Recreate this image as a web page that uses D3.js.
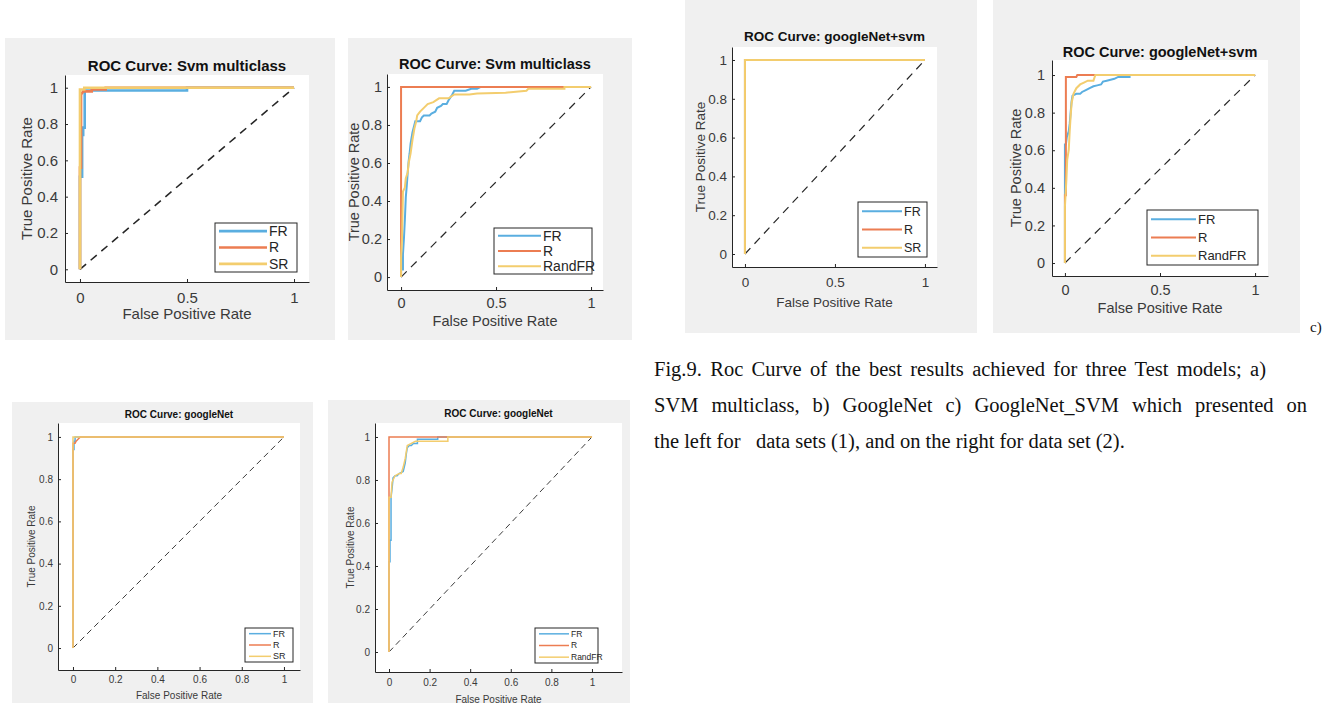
<!DOCTYPE html>
<html>
<head>
<meta charset="utf-8">
<script src="https://cdn.jsdelivr.net/npm/d3@7"></script>
<style>
  body { margin: 0; background: #fff; }
  svg text { font-family: Arial, "Liberation Sans", Helvetica, sans-serif; }
  .caption { font-family: "Liberation Serif", "Times New Roman", serif !important; fill: #111; }
</style>
</head>
<body>
<script>
// ---------- DATA ----------
const classesSet1 = ['FR', 'R', 'SR']
const classesSet2 = ['FR', 'R', 'RandFR']
const xTicksCoarse = [0, 0.5, 1]
const xTicksFine = [0, 0.2, 0.4, 0.6, 0.8, 1]
const yTicks = [0, 0.2, 0.4, 0.6, 0.8, 1]
const titles = ['ROC Curve: Svm multiclass', 'ROC Curve: googleNet+svm', 'ROC Curve: googleNet']

// [false positive rate, true positive rate]
const svmSet1FR = [[0,0],[0,0.51],[0.01,0.51],[0.01,0.74],[0.015,0.74],[0.015,0.78],[0.022,0.78],[0.022,0.985],[0.5,0.985],[0.5,1],[1,1]]
const svmSet1R = [[0,0],[0,0.56],[0.005,0.56],[0.005,0.97],[0.01,0.97],[0.015,0.98],[0.055,0.98],[0.055,0.99],[0.12,0.99],[0.12,1],[1,1]]
const svmSet1SR = [[0,0],[0,0.99],[0.02,0.99],[0.02,1],[1,1]]

const svmSet2FR = [[0,0],[0,0.04],[0.01,0.04],[0.01,0.12],[0.015,0.2],[0.02,0.3],[0.025,0.42],[0.03,0.48],[0.035,0.55],[0.04,0.61],[0.045,0.65],[0.05,0.7],[0.06,0.76],[0.07,0.8],[0.075,0.82],[0.1,0.82],[0.11,0.84],[0.12,0.85],[0.15,0.85],[0.16,0.86],[0.18,0.87],[0.19,0.89],[0.21,0.9],[0.22,0.91],[0.24,0.91],[0.25,0.93],[0.27,0.96],[0.28,0.98],[0.34,0.98],[0.37,0.99],[0.4,0.99],[0.42,1],[1,1]]
const svmSet2R = [[0,0],[0,0.15],[0,1],[1,1]]
const svmSet2RandFR = [[0,0],[0,0.1],[0.005,0.2],[0.01,0.45],[0.02,0.47],[0.025,0.52],[0.035,0.55],[0.04,0.6],[0.05,0.65],[0.06,0.72],[0.07,0.78],[0.08,0.82],[0.085,0.85],[0.1,0.87],[0.12,0.89],[0.14,0.91],[0.17,0.92],[0.2,0.94],[0.25,0.94],[0.28,0.96],[0.36,0.96],[0.4,0.965],[0.55,0.97],[0.66,0.98],[0.67,0.99],[0.86,0.99],[0.86,1],[1,1]]

const gsSet1FR = [[0,0],[0,1],[1,1]]
const gsSet1R = [[0,0],[0,1],[1,1]]
const gsSet1SR = [[0,0],[0,1],[1,1]]

const gsSet2FR = [[0,0],[0,0.63],[0.005,0.63],[0.01,0.67],[0.02,0.7],[0.025,0.74],[0.03,0.8],[0.035,0.86],[0.04,0.89],[0.06,0.9],[0.08,0.9],[0.09,0.91],[0.11,0.92],[0.13,0.93],[0.15,0.94],[0.17,0.945],[0.19,0.95],[0.2,0.965],[0.22,0.97],[0.24,0.975],[0.26,0.98],[0.28,0.99],[0.34,0.99],[0.34,1],[1,1]]
const gsSet2R = [[0,0],[0,0.36],[0.005,0.36],[0.005,0.99],[0.06,0.99],[0.065,1],[1,1]]
const gsSet2RandFR = [[0,0],[0,0.3],[0.008,0.45],[0.012,0.55],[0.02,0.6],[0.025,0.7],[0.03,0.78],[0.035,0.85],[0.045,0.9],[0.06,0.93],[0.08,0.95],[0.1,0.96],[0.12,0.97],[0.15,0.97],[0.16,1],[1,1]]

const gnSet1FR = [[0,0],[0,0.94],[0.005,0.94],[0.005,0.98],[0.01,0.98],[0.01,1],[1,1]]
const gnSet1R = [[0,0],[0,0.97],[0.01,0.97],[0.015,0.98],[0.025,0.99],[0.035,1],[1,1]]
const gnSet1SR = [[0,0],[0,1],[1,1]]

const gnSet2FR = [[0,0],[0,0.42],[0.005,0.42],[0.005,0.52],[0.01,0.52],[0.01,0.72],[0.015,0.76],[0.02,0.81],[0.03,0.82],[0.04,0.82],[0.05,0.83],[0.07,0.84],[0.08,0.88],[0.085,0.92],[0.09,0.95],[0.1,0.96],[0.11,0.96],[0.12,0.97],[0.14,0.97],[0.14,0.99],[0.24,0.99],[0.24,1],[1,1]]
const gnSet2R = [[0,0],[0,0.52],[0,1],[1,1]]
const gnSet2RandFR = [[0,0],[0,0.72],[0.01,0.72],[0.015,0.79],[0.02,0.8],[0.03,0.82],[0.05,0.83],[0.06,0.83],[0.07,0.86],[0.08,0.9],[0.09,0.96],[0.11,0.97],[0.13,0.98],[0.29,0.98],[0.29,1],[1,1]]

const captionLines = [
	'Fig.9. Roc Curve of the best results achieved for three Test models; a)',
	'SVM multiclass, b) GoogleNet c) GoogleNet_SVM which presented on',
	'the left for   data sets (1), and on the right for data set (2).'
]

// ---------- LAYOUT ----------
const colors = ['#5aaee0', '#ec7d52', '#f3cd6e']
// justified widths of the caption lines (last line left ragged)
const captionWidths = [612, 653, null]

let panels = [
	{ title: titles[0], series: [svmSet1FR, svmSet1R, svmSet1SR], names: classesSet1, xTicks: xTicksCoarse,
	  bg: [5, 38, 330, 302], box: [65, 75, 309, 282], xDom: [-0.07, 1.07], yDom: [-0.07, 1.07],
	  fs: 15, lw: 2.6, dash: '8,6', titleY: 66, xLabelY: 314, yLabelX: 27, xPad: 10, yPad: 7,
	  legend: [215, 223, 82, 49], legLine: 48, legFs: 14 },
	{ title: titles[0], series: [svmSet2FR, svmSet2R, svmSet2RandFR], names: classesSet2, xTicks: xTicksCoarse,
	  bg: [348, 38, 284, 302], box: [387, 74, 603, 290], xDom: [-0.074, 1.063], yDom: [-0.068, 1.068],
	  fs: 14.5, lw: 2, dash: '8,6', titleY: 64, xLabelY: 321, yLabelX: 354, xPad: 8, yPad: 5,
	  legend: [494, 228, 98, 46], legLine: 43, legFs: 14 },
	{ title: titles[1], series: [gsSet1FR, gsSet1R, gsSet1SR], names: classesSet1, xTicks: xTicksCoarse,
	  bg: [685, 0, 292, 333], box: [732, 47, 937, 267], xDom: [-0.072, 1.067], yDom: [-0.067, 1.067],
	  fs: 13.5, lw: 2, dash: '8,6', titleY: 36, xLabelY: 302, yLabelX: 700, xPad: 10, yPad: 5,
	  legend: [858, 202, 69, 55], legLine: 40, legFs: 12.5 },
	{ title: titles[1], series: [gsSet2FR, gsSet2R, gsSet2RandFR], names: classesSet2, xTicks: xTicksCoarse,
	  bg: [993, 0, 307, 333], box: [1052, 60, 1268, 276], xDom: [-0.068, 1.068], yDom: [-0.069, 1.08],
	  fs: 14.5, lw: 2, dash: '8,6', titleY: 52, xLabelY: 308, yLabelX: 1016, xPad: 9, yPad: 7,
	  legend: [1147, 210, 111, 55], legLine: 45, legFs: 13 },
	{ title: titles[2], series: [gnSet1FR, gnSet1R, gnSet1SR], names: classesSet1, xTicks: xTicksFine,
	  bg: [12, 402, 301, 301], box: [58, 423, 300, 670], xDom: [-0.071, 1.076], yDom: [-0.104, 1.066],
	  fs: 10, lw: 1.5, dash: '6,4', titleY: 414, xLabelY: 695, yLabelX: 31, xPad: 6, yPad: 5,
	  legend: [245, 628, 48, 34], legLine: 22, legFs: 9 },
	{ title: titles[2], series: [gnSet2FR, gnSet2R, gnSet2RandFR], names: classesSet2, xTicks: xTicksFine,
	  bg: [328, 400, 302, 303], box: [375, 423, 622, 672], xDom: [-0.069, 1.148], yDom: [-0.093, 1.065],
	  fs: 10, lw: 1.5, dash: '6,4', titleY: 413, xLabelY: 699, yLabelX: 350, xPad: 7, yPad: 5,
	  legend: [535, 628, 63, 35], legLine: 30, legFs: 8.5 }
]

let svg = d3.select('body').append('svg')
.attr('width', 1325)
.attr('height', 703)

panels.forEach(drawPanel)

// caption, justified by widening the word gaps
svg.append('g')
.selectAll('text')
.data(captionLines)
.enter()
.append('text')
.attr('class', 'caption')
.attr('x', 654)
.attr('y', (d, i) => 376 + i * 36)
.attr('font-size', 20.5)
.style('white-space', 'pre')
.text(d => d)
.each(function(d, i){
	if(!captionWidths[i]) return
	let natural = this.getComputedTextLength()
	let gaps = (d.match(/ /g) || []).length
	d3.select(this).style('word-spacing', ((captionWidths[i] - natural) / gaps) + 'px')
})

svg.append('text')
.attr('class', 'caption')
.attr('x', 1310)
.attr('y', 332)
.attr('font-size', 15)
.text('c)')


function drawPanel(p){

	let g = svg.append('g')
	let [left, top, right, bottom] = p.box

	g.append('rect')
	.attr('x', p.bg[0]).attr('y', p.bg[1])
	.attr('width', p.bg[2]).attr('height', p.bg[3])
	.attr('fill', '#f0f0f0')

	g.append('rect')
	.attr('x', left).attr('y', top)
	.attr('width', right - left).attr('height', bottom - top)
	.attr('fill', '#fff')

	let x = d3.scaleLinear().domain(p.xDom).range([left, right])
	let y = d3.scaleLinear().domain(p.yDom).range([bottom, top])

	let clip = 'clip' + left
	g.append('clipPath').attr('id', clip)
	.append('rect')
	.attr('x', left).attr('y', top)
	.attr('width', right - left).attr('height', bottom - top)

	let plot = g.append('g').attr('clip-path', 'url(#' + clip + ')')

	let line = d3.line().x(d => x(d[0])).y(d => y(d[1]))

	// chance diagonal
	plot.append('path')
	.attr('d', line([[0, 0], [1, 1]]))
	.attr('fill', 'none')
	.attr('stroke', '#262626')
	.attr('stroke-width', p.lw * 0.6)
	.attr('stroke-dasharray', p.dash)

	plot.selectAll('.roc')
	.data(p.series)
	.enter()
	.append('path')
	.attr('class', 'roc')
	.attr('d', line)
	.attr('fill', 'none')
	.attr('stroke', (d, i) => colors[i])
	.attr('stroke-width', p.lw)
	.attr('stroke-linejoin', 'miter')

	// axes
	let xAxis = g.append('g')
	.attr('transform', 'translate(0,' + bottom + ')')
	.call(d3.axisBottom(x).tickValues(p.xTicks).tickFormat(d => d).tickSizeInner(-3).tickSizeOuter(0).tickPadding(p.xPad))

	let yAxis = g.append('g')
	.attr('transform', 'translate(' + left + ',0)')
	.call(d3.axisLeft(y).tickValues(yTicks).tickFormat(d => d).tickSizeInner(-3).tickSizeOuter(0).tickPadding(p.yPad))

	;[xAxis, yAxis].forEach(a => {
		a.attr('font-family', null).attr('font-size', p.fs)
		a.select('.domain').attr('stroke', '#262626')
		a.selectAll('.tick line').attr('stroke', '#262626')
		a.selectAll('.tick text').attr('fill', '#3a3a3a')
	})

	let cx = (left + right) / 2
	let cy = (top + bottom) / 2

	g.append('text')
	.attr('x', cx).attr('y', p.titleY)
	.attr('dy', '0.35em')
	.attr('text-anchor', 'middle')
	.attr('font-size', p.fs)
	.attr('font-weight', 'bold')
	.attr('fill', '#111')
	.text(p.title)

	g.append('text')
	.attr('x', cx).attr('y', p.xLabelY)
	.attr('dy', '0.35em')
	.attr('text-anchor', 'middle')
	.attr('font-size', p.fs)
	.attr('fill', '#3a3a3a')
	.text('False Positive Rate')

	g.append('text')
	.attr('transform', 'translate(' + p.yLabelX + ',' + cy + ') rotate(-90)')
	.attr('dy', '0.35em')
	.attr('text-anchor', 'middle')
	.attr('font-size', p.fs)
	.attr('fill', '#3a3a3a')
	.text('True Positive Rate')

	// legend
	let [lx, ly, lw, lh] = p.legend
	let leg = g.append('g')

	leg.append('rect')
	.attr('x', lx).attr('y', ly)
	.attr('width', lw).attr('height', lh)
	.attr('fill', '#fff')
	.attr('stroke', '#262626')
	.attr('stroke-width', 1)

	let rowH = lh / 3
	p.names.forEach((name, i) => {
		let ry = ly + rowH * (i + 0.5)
		leg.append('line')
		.attr('x1', lx + 4).attr('x2', lx + 4 + p.legLine)
		.attr('y1', ry).attr('y2', ry)
		.attr('stroke', colors[i])
		.attr('stroke-width', p.lw)
		leg.append('text')
		.attr('x', lx + 6 + p.legLine).attr('y', ry)
		.attr('dy', '0.35em')
		.attr('font-size', p.legFs)
		.attr('fill', '#262626')
		.text(name)
	})
}
</script>
</body>
</html>
